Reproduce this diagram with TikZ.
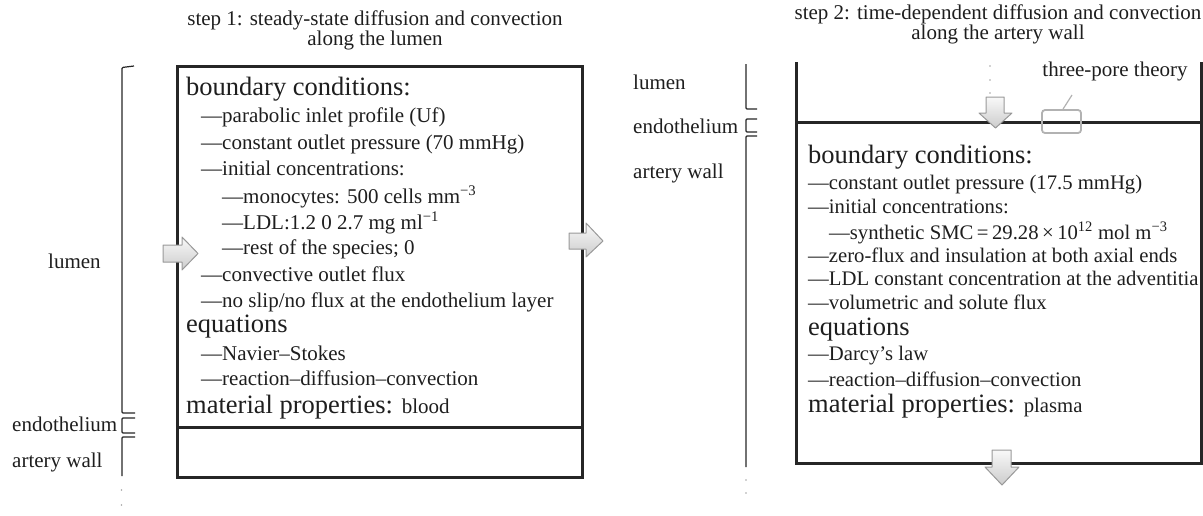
\documentclass[tikz,border=0pt]{standalone}
\usepackage{fontspec}
\setmainfont{Liberation Serif}
\definecolor{ink}{HTML}{1E1E1E}
\definecolor{linec}{HTML}{262626}
\tikzset{
  txt/.style={inner sep=0pt, anchor=base west, text=ink, font=\fontsize{21}{25}\selectfont},
  txtr/.style={txt, font=\fontsize{20.7}{25}\selectfont},
  head/.style={txt, font=\fontsize{26.5}{30}\selectfont},
  ttl/.style={inner sep=0pt, anchor=base, text=ink, font=\fontsize{21}{25}\selectfont},
  boxline/.style={draw=linec, line width=3pt},
  brk/.style={draw=linec, line width=1.2pt, rounded corners=1pt},
  blockarrow/.style={draw=gray!80, line width=1pt, top color=gray!5, bottom color=gray!40, line join=round},
  dotc/.style={fill=gray!70, draw=none},
  porebox/.style={draw=gray!60, line width=1.8pt, rounded corners=3pt, minimum width=39pt, minimum height=23pt, inner sep=0pt},
}
\begin{document}
\begin{tikzpicture}[x=1pt,y=-1pt]
\useasboundingbox (0,0) rectangle (1203,515);

% ---------------- left panel ----------------
\node[ttl] (t1a) at (375,25) {step 1: steady-state diffusion and convection};
\node[ttl] (t1b) at (375,45) {along the lumen};

\coordinate (LB1) at (177,66);
\coordinate (LB2) at (582,477);
\draw[boxline] (LB1) rectangle (LB2);
\coordinate (LD1) at (177,427);
\coordinate (LD2) at (582,427);
\draw[boxline] (LD1) -- (LD2);

% brackets
\draw[brk] (134,66) -- (122,67.5) -- (122,413) -- (135,413);
\draw[brk] (135,418) -- (122,418) -- (122,433) -- (135,433);
\draw[brk] (135,437) -- (122,437) -- (122,476);
\fill[dotc] (121.5,490) circle (0.9);
\fill[dotc] (121.5,505) circle (0.9);

\node[txt] (l1) at (48,268) {lumen};
\node[txt] (l2) at (12,431) {endothelium};
\node[txt] (l3) at (12,467) {artery wall};

\node[head] (a1) at (186,95) {boundary conditions:};
\node[txt] (a2) at (201,122) {—parabolic inlet profile (Uf)};
\node[txt] (a3) at (201,149) {—constant outlet pressure (70 mmHg)};
\node[txt] (a4) at (201,175) {—initial concentrations:};
\node[txt] (a5) at (222,203) {—monocytes: 500 cells mm\textsuperscript{−3}};
\node[txt] (a6) at (222,229) {—LDL:1.2 0 2.7 mg ml\textsuperscript{−1}};
\node[txt] (a7) at (222,254) {—rest of the species; 0};
\node[txt] (a8) at (201,281) {—convective outlet flux};
\node[txt] (a9) at (201,307) {—no slip/no flux at the endothelium layer};
\node[head] (a10) at (186,332) {equations};
\node[txt] (a11) at (201,360) {—Navier–Stokes};
\node[txt] (a12) at (201,385) {—reaction–diffusion–convection};
\node[head] (a13) at (186,413) {material properties: {\fontsize{21}{25}\selectfont blood}};

% block arrows
\path[blockarrow] (163,245) -- (182,245) -- (182,237) -- (198,253.5) -- (182,270) -- (182,262) -- (163,262) -- cycle;
\path[blockarrow] (569,233) -- (586,233) -- (586,223) -- (603,241) -- (586,257) -- (586,249) -- (569,249) -- cycle;

% ---------------- right panel ----------------
\node[ttl] (t2a) at (998,19) {step 2: time-dependent diffusion and convection};
\node[ttl] (t2b) at (998,39) {along the artery wall};

\coordinate (RL1) at (796,62);
\coordinate (RL2) at (796,463);
\coordinate (RR1) at (1201,62);
\coordinate (RR2) at (1201,463);
\draw[boxline] (RL1) -- (RL2) -- (RR2) -- (RR1);
\coordinate (RE1) at (796,122);
\coordinate (RE2) at (1201,122);
\draw[boxline] (RE1) -- (RE2);

% brackets
\draw[brk] (746,64) -- (746,109) -- (757,109);
\draw[brk] (757,119) -- (746,119) -- (746,132) -- (757,132);
\draw[brk] (757,136) -- (746,136) -- (746,467);
\fill[dotc] (746,480) circle (0.9);
\fill[dotc] (746,493) circle (0.9);

\node[txt] (r1) at (633,89) {lumen};
\node[txt] (r2) at (633,133) {endothelium};
\node[txt] (r3) at (633,178) {artery wall};

% dots above arrow
\fill[dotc] (990,66) circle (0.9);
\fill[dotc] (990,80) circle (0.9);
\fill[dotc] (990,93) circle (0.9);

% three-pore theory
\node[porebox] (pore) at (1061.5,121.5) {};
\node[ttl] (tp) at (1115,76) {three-pore theory};
\coordinate (lead) at (1072,95);
\draw[draw=gray!60, line width=1.2pt] (lead) -- ([xshift=1.5pt]pore.north);

\node[head] (b1) at (808,163) {boundary conditions:};
\node[txtr] (b2) at (808,189) {—constant outlet pressure (17.5 mmHg)};
\node[txtr] (b3) at (808,213) {—initial concentrations:};
\node[txtr] (b4) at (829,239) {—synthetic SMC\,=\,29.28\,×\,10\textsuperscript{12} mol m\textsuperscript{−3}};
\node[txtr] (b5) at (808,262) {—zero-flux and insulation at both axial ends};
\node[txtr] (b6) at (808,285) {—LDL constant concentration at the adventitia};
\node[txtr] (b7) at (808,309) {—volumetric and solute flux};
\node[head] (b8) at (808,335) {equations};
\node[txtr] (b9) at (808,360) {—Darcy’s law};
\node[txtr] (b10) at (808,386) {—reaction–diffusion–convection};
\node[head] (b11) at (808,412) {material properties: {\fontsize{20.7}{25}\selectfont plasma}};

% down arrows
\path[blockarrow] (986,97) -- (1004,97) -- (1004,113) -- (1012,113) -- (995.5,128) -- (979,113) -- (986,113) -- cycle;
\path[blockarrow] (992,450) -- (1011,450) -- (1011,467) -- (1019,467) -- (1002,485) -- (985,467) -- (992,467) -- cycle;

\end{tikzpicture}
\end{document}
